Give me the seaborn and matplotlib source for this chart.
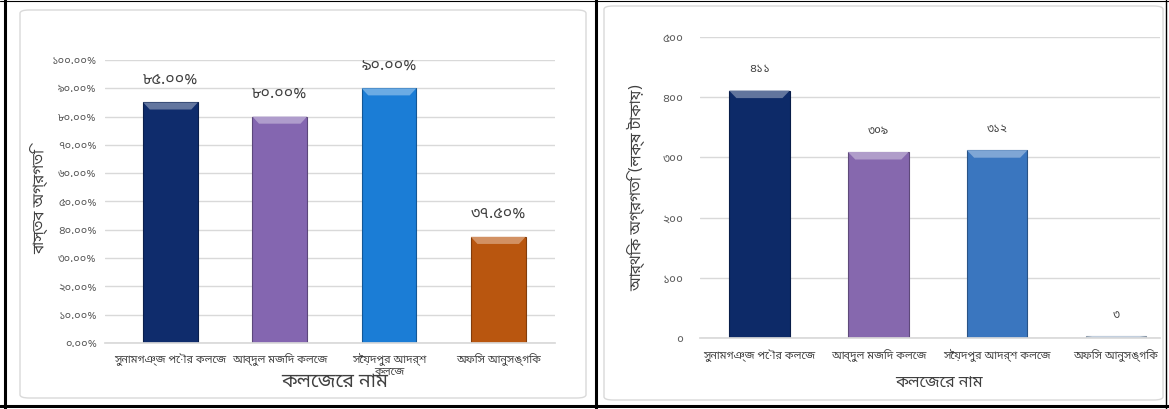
import matplotlib
matplotlib.use('Agg')
import matplotlib.pyplot as plt
import seaborn as sns
import pandas as pd
from matplotlib import font_manager as fm
from matplotlib.ft2font import FT2Font
from matplotlib.ticker import FuncFormatter, MultipleLocator
from matplotlib.lines import Line2D
from matplotlib.patches import FancyBboxPatch, Polygon

# data
colleges = ['সুনামগঞ্জ পৌর কলেজ', 'আব্দুল মজিদ কলেজ', 'সৈয়দপুর আদর্শ কলেজ', 'অফিস আনুসঙ্গিক']
colleges_left = ['সুনামগঞ্জ পৌর কলেজ', 'আব্দুল মজিদ কলেজ', 'সৈয়দপুর আদর্শ\nকলেজ', 'অফিস আনুসঙ্গিক']
physical = [0.85, 0.80, 0.90, 0.375]
financial = [411, 309, 312, 3]
ylabel_left = 'বাস্তব অগ্রগতি'
ylabel_right = 'আর্থিক অগ্রগতি (লক্ষ টাকায়)'
xlabel = 'কলেজের নাম'

colors_left = ['#0f2c6c', '#8466b0', '#1b7dd6', '#b9560f']
colors_right = ['#0d2a68', '#8668ae', '#3a76bf', '#b9cde5']

# fonts with bengali glyphs; prefer a proportional sans one
cands = []
for f in fm.fontManager.ttflist:
    try:
        if 0x0995 in FT2Font(f.fname).get_charmap():
            cands.append(f)
    except Exception:
        pass


def score(f):
    n = (f.name + ' ' + f.fname).lower()
    s = 0
    if 'bengali' in n or 'bangla' in n:
        s += 10
    if 'sans' in n:
        s += 3
    if 'mono' in n:
        s -= 20
    if 'serif' in n and 'sans' not in n:
        s -= 2
    if f.weight not in ('normal', 400, 'regular'):
        s -= 1
    return s


cands.sort(key=score, reverse=True)
beng = cands[0].name if cands else None

sns.set_theme(style='white')
plt.rcParams['font.family'] = ([beng] if beng else []) + ['Noto Sans', 'DejaVu Sans']

BN = str.maketrans('0123456789', '০১২৩৪৫৬৭৮৯')


def bn(s):
    return str(s).translate(BN)


def bevel(ax, lighten=0.35):
    # simple bevel cap on each bar, taken from the bar geometry
    for p in ax.patches:
        x, w, h = p.get_x(), p.get_width(), p.get_height()
        if h <= 0:
            continue
        y0, y1 = ax.get_ylim()
        d = w * 0.12
        dy = min((y1 - y0) * 0.025, h * 0.5)
        fc = p.get_facecolor()
        light = tuple(min(1, c + (1 - c) * lighten) for c in fc[:3])
        ax.add_patch(Polygon([[x, h], [x + w, h], [x + w - d, h - dy], [x + d, h - dy]],
                             closed=True, facecolor=light, edgecolor='none', zorder=3))
        p.set_edgecolor(tuple(c * 0.7 for c in fc[:3]))
        p.set_linewidth(0.8)


fig = plt.figure(figsize=(11.69, 4.09), dpi=100)
W, H = 1169, 409

# chart area frames
for (x0, y0, x1, y1) in [(20, 10, 586, 398), (604, 6, 1163, 400)]:
    fig.add_artist(FancyBboxPatch((x0 / W, 1 - y1 / H), (x1 - x0) / W, (y1 - y0) / H,
                                  boxstyle='round,pad=0,rounding_size=0.008',
                                  transform=fig.transFigure, facecolor='none',
                                  edgecolor='#d9d9d9', linewidth=1.0))

# ---------------- left chart ----------------
ax1 = fig.add_axes([105 / W, 1 - 343 / H, 450 / W, 283 / H])
df1 = pd.DataFrame({'college': colleges_left, 'value': physical})
sns.barplot(data=df1, x='college', y='value', hue='college', palette=colors_left,
            width=0.5, legend=False, saturation=1, ax=ax1, zorder=2)
ax1.set_ylim(0, 1.0)
ax1.set_xlim(-0.6, 3.52)
ax1.yaxis.set_major_locator(MultipleLocator(0.1))
ax1.yaxis.set_major_formatter(FuncFormatter(lambda v, p: bn(f'{v * 100:.2f}%')))
ax1.grid(axis='y', color='#d9d9d9', linewidth=1.0, zorder=0)
for s in ['top', 'right', 'left']:
    ax1.spines[s].set_visible(False)
ax1.spines['bottom'].set_color('#d9d9d9')
ax1.tick_params(axis='y', labelsize=8, labelcolor='#595959', length=0, pad=6)
ax1.tick_params(axis='x', labelsize=7.8, labelcolor='#404040', length=0, pad=7)
ax1.set_ylabel(ylabel_left, fontsize=11, color='#404040')
ax1.yaxis.set_label_coords(-0.127, 0.5)
ax1.set_xlabel(xlabel, fontsize=14, color='#404040')
ax1.xaxis.set_label_coords(0.51, -0.1)
bevel(ax1)
for i, v in enumerate(physical):
    ax1.text(i, v + 0.08, bn(f'{v * 100:.2f}%'), ha='center', va='center',
             fontsize=11.5, color='#404040', zorder=4)

# ---------------- right chart ----------------
ax2 = fig.add_axes([700 / W, 1 - 338 / H, 460 / W, 301 / H])
df2 = pd.DataFrame({'college': colleges, 'value': financial})
sns.barplot(data=df2, x='college', y='value', hue='college', palette=colors_right,
            width=0.51, legend=False, saturation=1, ax=ax2, zorder=2)
ax2.set_ylim(0, 500)
ax2.set_xlim(-0.5, 3.37)
ax2.yaxis.set_major_locator(MultipleLocator(100))
ax2.yaxis.set_major_formatter(FuncFormatter(lambda v, p: bn(f'{v:.0f}')))
ax2.grid(axis='y', color='#d9d9d9', linewidth=1.0, zorder=0)
for s in ['top', 'right', 'left']:
    ax2.spines[s].set_visible(False)
ax2.spines['bottom'].set_color('#d9d9d9')
ax2.tick_params(axis='y', labelsize=8.5, labelcolor='#595959', length=0, pad=12)
ax2.tick_params(axis='x', labelsize=7.8, labelcolor='#404040', length=0, pad=8)
ax2.set_ylabel(ylabel_right, fontsize=11, color='#404040')
ax2.yaxis.set_label_coords(-0.12, 0.5)
ax2.set_xlabel(xlabel, fontsize=11.5, color='#404040')
ax2.xaxis.set_label_coords(0.52, -0.125)
bevel(ax2)
for i, v in enumerate(financial):
    ax2.text(i, v + 36, bn(v), ha='center', va='center', fontsize=8.5,
             color='#404040', zorder=4)

# table cell borders
lines = [((5, 5), (0, 409), 2.2), ((0, 1169), (406, 406), 2.2), ((596, 596), (0, 409), 2.2),
         ((1166, 1166), (0, 409), 1.0), ((0, 1169), (1, 1), 0.8)]
for xs, ys, lw in lines:
    fig.add_artist(Line2D([x / W for x in xs], [1 - y / H for y in ys], color='black',
                          linewidth=lw, transform=fig.transFigure))

fig.savefig('out.png', dpi=100)
